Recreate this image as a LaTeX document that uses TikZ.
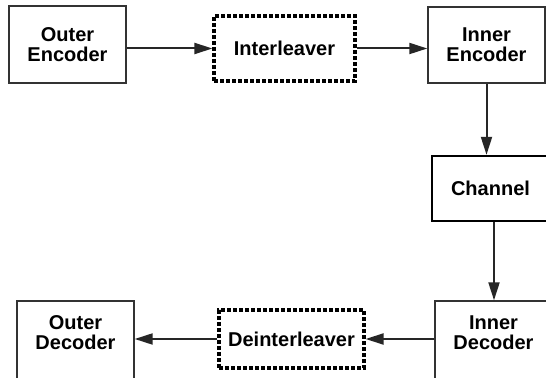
\documentclass[tikz,border=0pt]{standalone}
\usepackage{fontspec}
\setmainfont{Liberation Sans}
\usetikzlibrary{arrows.meta}
\tikzset{
block/.style={draw=black!80,line width=0.7pt,align=center,inner sep=2pt,
  font=\fontsize{10}{10}\selectfont\bfseries,minimum width=58.5pt},
dotblock/.style={block,draw=black,line width=1.6pt,dash pattern=on 2pt off 1pt},
cutblock/.style={block,minimum height=45pt,text depth=13pt},
arr/.style={draw=black!85,line width=1pt,-{Triangle[length=9pt,width=5.5pt]}}
}
\begin{document}
\begin{tikzpicture}[x=0.5pt,y=-0.5pt]
\clip (0,0) rectangle (546,378);
\fill[white] (0,0) rectangle (546,378);
% encoder side
\node[block,minimum height=38.5pt] (outenc) at (67.5,44.5) {Outer\\Encoder};
\node[dotblock,minimum width=70.5pt,minimum height=32.5pt] (inter) at (284.5,48.5) {Interleaver};
\node[block,minimum height=38pt] (inenc) at (486.5,45) {Inner\\Encoder};
\node[block,draw=black,line width=1.2pt,minimum height=32.5pt] (chan) at (490.5,188.5) {Channel};
% decoder side
\node[cutblock] (indec) at (493.5,346) {Inner\\Decoder};
\node[dotblock,minimum width=72.5pt,minimum height=29pt] (deint) at (291.5,339) {Deinterleaver};
\node[cutblock] (outdec) at (75.5,346) {Outer\\Decoder};
\draw[arr] (outenc.east |- inter.west) -- (inter.west);
\draw[arr] (inter.east) -- (inter.east -| inenc.west);
\draw[arr] (inenc.south) -- (inenc.south |- chan.north);
\draw[arr] ([xshift=1.75pt]chan.south) -- ([xshift=1.75pt]chan.south |- indec.north);
\draw[arr] (deint.east -| indec.west) -- (deint.east);
\draw[arr] (deint.west) -- (deint.west -| outdec.east);
\end{tikzpicture}
\end{document}
